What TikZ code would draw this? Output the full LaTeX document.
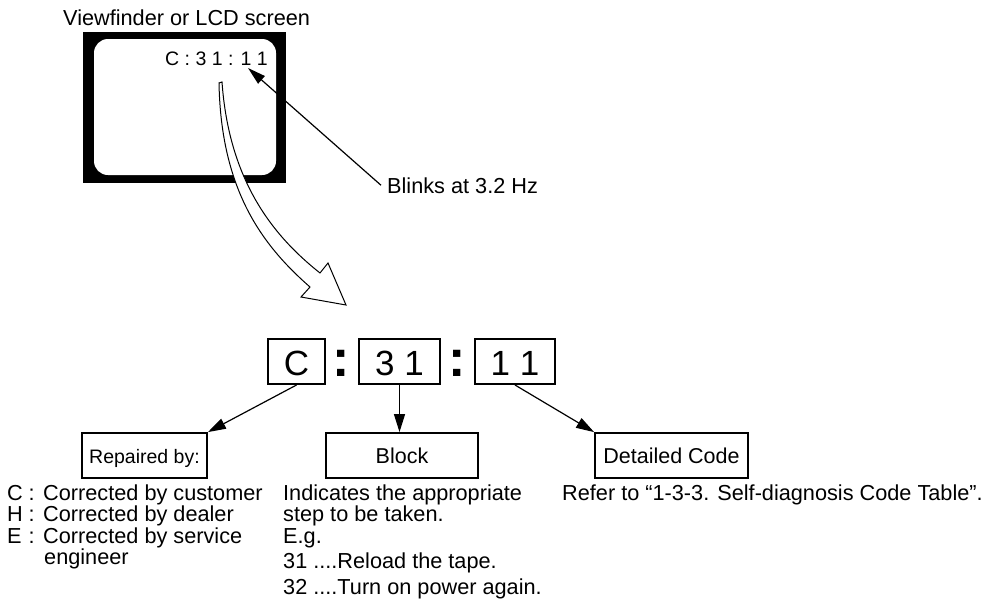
\documentclass[tikz,border=0pt]{standalone}
\usepackage{fontspec}
\setmainfont{Liberation Sans}
\usetikzlibrary{arrows.meta}
\begin{document}
\begin{tikzpicture}[x=1pt,y=-1pt,
  txt/.style={font=\fontsize{21.7}{21.7}\selectfont, inner sep=0pt, anchor=base west},
  bigbox/.style={draw, line width=2pt, minimum height=45pt, inner sep=0pt, text height=27pt, text depth=0pt, font=\fontsize{35}{35}\selectfont},
  labbox/.style={draw, line width=1.8pt, minimum height=45pt, inner sep=0pt, text height=18pt, text depth=2pt, font=\fontsize{21.5}{21.5}\selectfont},
  conn/.style={line width=1.2pt, -{Triangle[length=18pt,width=11pt]}},
  colonmark/.style={font=\fontsize{52}{52}\selectfont\bfseries, inner sep=0pt, anchor=base},
  hollow/.style={draw=black, fill=white, line width=1pt, line join=miter}
]
\useasboundingbox (0,0) rectangle (988,600);
% title
\node[txt] (title) at (63,25) {Viewfinder or LCD screen};
% screen frame
\fill[black] (83,32) rectangle (286,183);
\fill[white, rounded corners=14pt] (94,39) rectangle (276,175);
\node[txt, anchor=base east, font=\fontsize{19.5}{19.5}\selectfont] (disp) at (268,65) {C : 3 1 : 1 1};
% blinks
\node[txt] (blinks) at (387,193) {Blinks at 3.2 Hz};
\coordinate (btip) at (248,68);
\draw[line width=1.2pt, -{Triangle[length=18pt,width=10pt]}] ([xshift=-6pt]blinks.west) -- (btip);
% hollow curved arrow
\draw[hollow] (219,83) .. controls (221,190) and (262,245) .. (310,287)
  -- (301,297) -- (346,305) -- (328,263) -- (320,273)
  .. controls (272,235) and (229,180) .. (222,82) -- cycle;
% code boxes
\node[bigbox, minimum width=57pt] (bC) at (296.5,361.5) {C};
\node[bigbox, minimum width=81pt] (b31) at (399.5,361.5) {3 1};
\node[bigbox, minimum width=80pt] (b11) at (515,361.5) {1 1};
\node[colonmark] (col1) at (341.5,376) {:};
\node[colonmark] (col2) at (457.5,376) {:};
% label boxes
\node[labbox, minimum width=125pt, font=\fontsize{19.5}{19.5}\selectfont] (rep) at (144.5,455.5) {Repaired by:};
\node[labbox, minimum width=152pt] (blk) at (402,455.5) {Block};
\node[labbox, minimum width=153pt] (det) at (671.5,455.5) {Detailed Code};
% connectors
\draw[conn] (bC.south) -- (rep.north east);
\draw[conn] (b31.south) -- (b31.south |- blk.north);
\draw[conn] (b11.south) -- (det.north west);
% left texts
\node[txt] (l1) at (7,500) {\makebox[21.5pt][l]{C}:\hspace{8.5pt}Corrected by customer};
\node[txt] (l2) at (7,521) {\makebox[21.5pt][l]{H}:\hspace{8.5pt}Corrected by dealer};
\node[txt] (l3) at (7,543) {\makebox[21.5pt][l]{E}:\hspace{8.5pt}Corrected by service};
\node[txt] (l4) at (44,564) {engineer};
% block texts
\node[txt] (m1) at (283,500) {Indicates the appropriate};
\node[txt] (m2) at (283,521) {step to be taken.};
\node[txt] (m3) at (283,543) {E.g.};
\node[txt] (m4) at (283,568) {31 ....Reload the tape.};
\node[txt] (m5) at (283,594) {32 ....Turn on power again.};
% detailed text
\node[txt] (r1) at (562,500) {Refer to “1-3-3. Self-diagnosis Code Table”.};
\end{tikzpicture}
\end{document}
